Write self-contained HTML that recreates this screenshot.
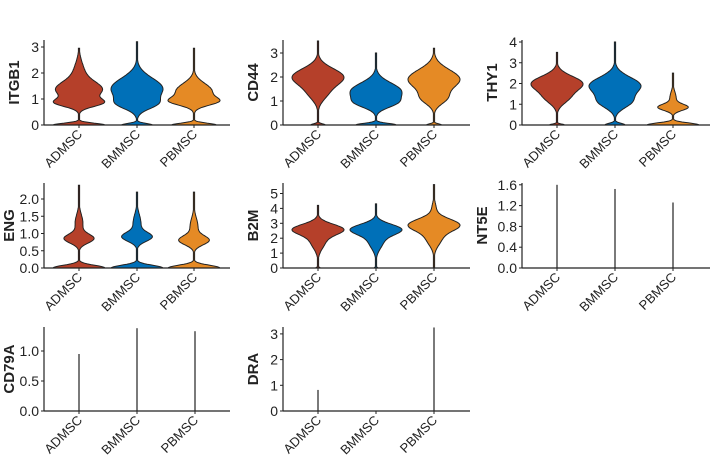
<!DOCTYPE html><html><head><meta charset="utf-8"><style>body{margin:0;background:#fff}svg{display:block}text{font-family:"Liberation Sans",Arial,sans-serif;fill:#222}</style></head><body>
<svg id="s" width="713" height="459" xmlns="http://www.w3.org/2000/svg"></svg>
<script>
const S=document.getElementById('s');let h='';
const cols=['#B5402A','#0070B8','#E58A25'];
const P=[
{n:'ITGB1',x0:44,y0:125,ppu:26,c:[79,137,194],end:230,top:40,ticks:[0,1,2,3],f:0,
 v:[[2.95,[[0,.07,1],[.85,.15,.75],[1.35,.3,.85],[2,.4,.2]]],[3.2,[[0,.06,.6],[1.4,.4,1],[.8,.2,.5]]],[2.95,[[0,.07,1],[.9,.15,.8],[1.3,.3,.8]]]]},
{n:'CD44',x0:283,y0:125,ppu:24,c:[318,376,434],end:470,top:40,ticks:[0,1,2,3],f:0,
 v:[[3.5,[[0,.05,.3],[2,.35,1],[1.3,.3,.3]]],[3,[[0,.07,.8],[1.4,.35,1],[.9,.2,.5]]],[3.2,[[0,.05,.3],[1.9,.4,1],[1.1,.25,.4]]]]},
{n:'THY1',x0:522,y0:125,ppu:20.75,c:[557,615,673],end:710,top:40,ticks:[0,1,2,3,4],f:0,
 v:[[3.5,[[0,.05,.3],[2,.35,1],[1.3,.3,.4]]],[4,[[0,.08,.4],[1.9,.4,1],[1.1,.3,.55]]],[2.5,[[0,.1,1],[.85,.15,.55],[1.3,.3,.12]]]]},
{n:'ENG',x0:44,y0:268,ppu:34.5,c:[79,137,194],end:230,top:183,ticks:[0,.5,1,1.5,2],f:1,
 v:[[2.4,[[0,.08,1],[.85,.13,.55],[1.3,.25,.15]]],[2.2,[[0,.08,1],[.9,.13,.55],[1.3,.25,.15]]],[2.2,[[0,.08,1],[.8,.13,.55],[1.2,.25,.15]]]]},
{n:'B2M',x0:283,y0:268,ppu:14.9,c:[318,376,434],end:470,top:183,ticks:[0,1,2,3,4,5],f:0,
 v:[[4.2,[[0,.05,.1],[2.6,.35,1],[1.8,.5,.3]]],[4.3,[[0,.05,.08],[2.6,.35,1],[1.8,.5,.3]]],[5.6,[[2.9,.4,1],[2,.5,.3],[4,.4,.08]]]]},
{n:'NT5E',x0:522,y0:268,ppu:52,c:[557,615,673],end:710,top:183,ticks:[0,.4,.8,1.2,1.6],f:1,L:[1.6,1.52,1.26]},
{n:'CD79A',x0:44,y0:411,ppu:60,c:[79,137,195],end:230,top:327,ticks:[0,.5,1],f:1,L:[.95,1.38,1.33]},
{n:'DRA',x0:283,y0:411,ppu:25.7,c:[318,376,434],end:470,top:327,ticks:[0,1,2,3],f:0,L:[.82,0,3.25]}];
const names=['ADMSC','BMMSC','PBMSC'];
for(const p of P){
 if(p.v){p.v.forEach((vv,i)=>{const mx=vv[0],g=vv[1];const N=120;let ds=[];
  for(let k=0;k<=N;k++){const y=mx*k/N;let d=0;for(const [m,s,w] of g)d+=w*Math.exp(-(y-m)*(y-m)/(2*s*s));ds.push([y,d]);}
  const dm=Math.max(...ds.map(a=>a[1]));const W=26;let L=[],R=[];
  for(const [y,d] of ds){const w=Math.max(0.6,d/dm*W);const py=p.y0-y*p.ppu;L.push((p.c[i]-w).toFixed(1)+','+py.toFixed(1));R.unshift((p.c[i]+w).toFixed(1)+','+py.toFixed(1));}
  h+=`<polygon points="${L.concat(R).join(' ')}" fill="${cols[i]}" stroke="#222" stroke-width="1"/>`;});}
 if(p.L){p.L.forEach((v,i)=>{if(v>0)h+=`<line x1="${p.c[i]}" x2="${p.c[i]}" y1="${p.y0}" y2="${p.y0-v*p.ppu}" stroke="#333" stroke-width="1.3"/>`;});}
 h+=`<line x1="${p.x0}" x2="${p.x0}" y1="${p.top}" y2="${p.y0}" stroke="#222" stroke-width="1.2"/><line x1="${p.x0}" x2="${p.end}" y1="${p.y0}" y2="${p.y0}" stroke="#222" stroke-width="1.2"/>`;
 for(const t of p.ticks){const y=p.y0-t*p.ppu;h+=`<line x1="${p.x0-3}" x2="${p.x0}" y1="${y}" y2="${y}" stroke="#222"/><text x="${p.x0-5}" y="${y+5}" font-size="14" text-anchor="end">${p.f?t.toFixed(1):t}</text>`;}
 const lx=p.x0<100?(p.f?p.x0-30:p.x0-25):(p.f?p.x0-35:p.x0-25);const my=(p.top+p.y0)/2;
 h+=`<text transform="translate(${lx},${my}) rotate(-90)" font-size="15" font-weight="bold" text-anchor="middle">${p.n}</text>`;
 p.c.forEach((c,i)=>{h+=`<line x1="${c}" x2="${c}" y1="${p.y0}" y2="${p.y0+3}" stroke="#222"/><text transform="translate(${c+4},${p.y0+10}) rotate(-45)" font-size="13" text-anchor="end">${names[i]}</text>`;});
}
S.innerHTML=h;
</script></body></html>
